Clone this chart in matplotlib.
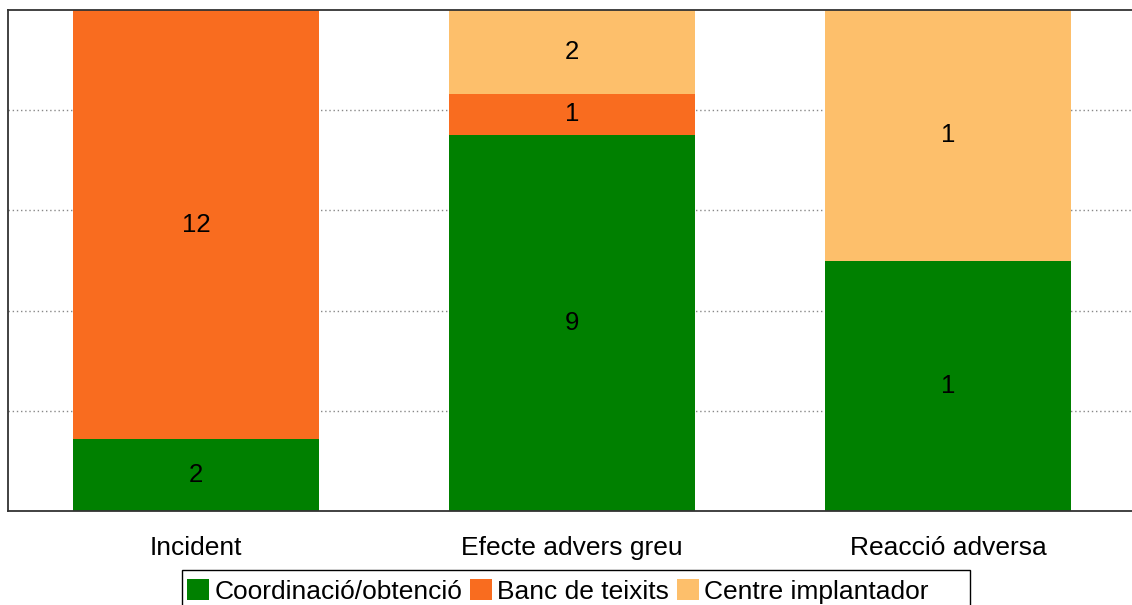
import numpy as np
import matplotlib.pyplot as plt
from matplotlib.patches import Rectangle

plt.rcParams['font.family'] = ['Liberation Sans', 'DejaVu Sans']

categories = ["Incident", "Efecte advers greu", "Reacció adversa"]
series = ["Coordinació/obtenció", "Banc de teixits", "Centre implantador"]
coordinacio = [2, 9, 1]
banc = [12, 1, 0]
centre = [0, 2, 1]
colors = ["#008000", "#F96C1F", "#FDBF6B"]

W, H = 1132, 605


def run_plot():
    data = np.array([coordinacio, banc, centre], dtype=float)
    totals = data.sum(axis=0)
    pct = data / totals * 100

    fig = plt.figure(figsize=(W / 100, H / 100), dpi=100)
    ax = fig.add_axes([8 / W, 94 / H, 1128 / W, 501 / H])

    x = np.arange(len(categories))
    bottom = np.zeros(len(categories))
    for i, name in enumerate(series):
        ax.bar(x, pct[i], 0.652, bottom=bottom, color=colors[i], label=name, zorder=2)
        for j in range(len(categories)):
            if data[i, j] > 0:
                ax.text(x[j], bottom[j] + pct[i, j] / 2, str(int(data[i, j])),
                        ha="center", va="center", fontsize=18.5)
        bottom += pct[i]

    ax.set_xlim(-0.5, 2.5)
    ax.set_ylim(0, 100)
    ax.set_yticks([20, 40, 60, 80])
    ax.yaxis.grid(True, linestyle=(0, (1, 2)), color="#888888", linewidth=1, zorder=0)
    ax.tick_params(axis="y", left=False, labelleft=False)
    ax.set_xticks(x)
    ax.set_xticklabels(categories, fontsize=19)
    ax.tick_params(axis="x", length=0, pad=18)
    for s in ax.spines.values():
        s.set_color("#333333")
        s.set_linewidth(1.3)
    ax.spines["right"].set_visible(False)

    # legend entries, with the box drawn by hand so it runs past the bottom edge
    fig.legend(loc="upper left", bbox_to_anchor=(182 / W, 1 - 574 / H),
               ncol=3, fontsize=19, frameon=False,
               handlelength=0.83, handleheight=0.83, handletextpad=0.2,
               columnspacing=0.3, borderpad=0.2, borderaxespad=0)
    fig.patches.append(Rectangle((182 / W, -0.05), (970 - 182) / W, 0.05 + 35 / H,
                                 transform=fig.transFigure, fill=False,
                                 edgecolor="#000000", linewidth=1))

    fig.savefig("out.png", dpi=100)


if __name__ == "__main__":
    run_plot()
